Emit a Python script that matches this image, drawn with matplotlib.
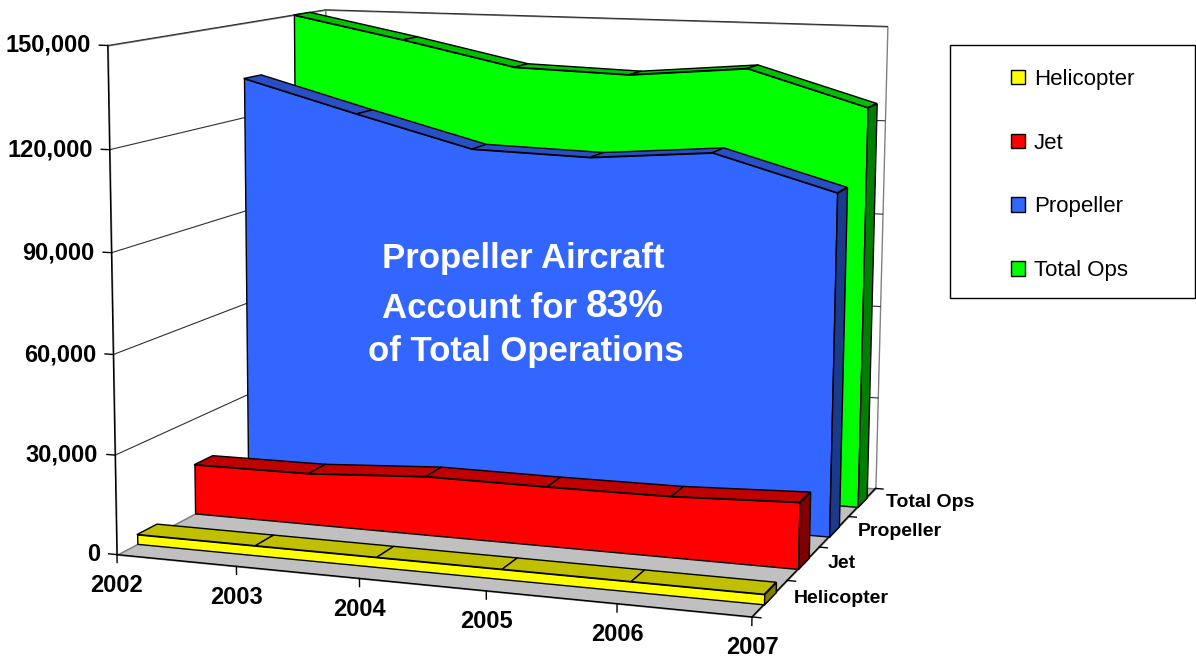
import numpy as np
import matplotlib
matplotlib.use('Agg')
import matplotlib.pyplot as plt
from matplotlib.patches import Patch, Rectangle
from mpl_toolkits.mplot3d.art3d import Poly3DCollection

plt.rcParams['font.family'] = ['Liberation Sans', 'DejaVu Sans']

# operations by aircraft type, 2002-2007
years = [2002, 2003, 2004, 2005, 2006, 2007]
series = ['Helicopter', 'Jet', 'Propeller', 'Total Ops']
helicopter = [2900, 2900, 2900, 2900, 2900, 2900]
jet = [15600, 15900, 18100, 18100, 18400, 19900]
propeller = [132500, 122700, 113300, 112400, 115500, 105200]
total_ops = [150000, 143000, 135400, 134300, 137600, 126800]
zticks = [0, 30000, 60000, 90000, 120000, 150000]

front_colors = ['#ffff00', '#ff0000', '#3366ff', '#00ff00']
top_colors = ['#c0c000', '#c00000', '#2a4fc4', '#00c000']
side_colors = ['#808000', '#800000', '#1c3a8c', '#008000']

W, H = 1196, 660
fig = plt.figure(figsize=(W / 100, H / 100), dpi=100)
ax = fig.add_axes([-0.10604, -0.14748, 1.05401, 1.40534],
                  projection='3d', computed_zorder=False)
ax.view_init(elev=9.34, azim=-70.96, roll=-0.29)
ax.set_proj_type('persp', focal_length=0.5735)
ax.set_box_aspect((1, 0.8317, 0.7788))
ax.set_axis_off()

nx = len(years) - 1
ny = len(series)
zmax = zticks[-1]
xpos = np.arange(len(years))


def add_poly(verts, fc, ec, z, lw=1.0):
    pc = Poly3DCollection(verts, facecolors=fc, edgecolors=ec, linewidths=lw)
    pc.set_zorder(z)
    ax.add_collection3d(pc)


# floor and walls
add_poly([[(0, 0, 0), (nx, 0, 0), (nx, ny, 0), (0, ny, 0)]], '#c0c0c0', '#808080', 0)
add_poly([[(0, 0, 0), (0, ny, 0), (0, ny, zmax), (0, 0, zmax)]], 'white', '#808080', 0)
add_poly([[(0, ny, 0), (nx, ny, 0), (nx, ny, zmax), (0, ny, zmax)]], 'white', '#808080', 0)

for z in zticks[1:]:
    ax.plot([0, 0, nx], [0, ny, ny], [z, z, z], color='#303030', lw=0.8, zorder=1)

# axis lines and tick marks
ax.plot([0, nx], [0, 0], [0, 0], color='k', lw=1, zorder=2)
ax.plot([nx, nx], [0, ny], [0, 0], color='k', lw=1, zorder=2)
ax.plot([0, 0], [0, 0], [0, zmax], color='k', lw=1, zorder=2)
for z in zticks:
    ax.plot([-0.07, 0], [0, 0], [z, z], color='k', lw=1, zorder=2)
for x in xpos:
    ax.plot([x, x], [0, 0], [0, -2400], color='k', lw=1, zorder=2)
for j in range(ny + 1):
    ax.plot([nx, nx + 0.065], [j, j], [0, 0], color='k', lw=1, zorder=2)

# one slab per series, back to front
values = [helicopter, jet, propeller, total_ops]
for i in reversed(range(ny)):
    v = values[i]
    y0, y1 = i + 1 / 3, i + 2 / 3
    zo = 10 + (ny - i) * 3
    front = [(x, y0, 0) for x in xpos] + [(x, y0, h) for x, h in zip(xpos[::-1], v[::-1])]
    add_poly([front], front_colors[i], 'k', zo)
    tops = [[(xpos[k], y0, v[k]), (xpos[k + 1], y0, v[k + 1]),
             (xpos[k + 1], y1, v[k + 1]), (xpos[k], y1, v[k])] for k in range(nx)]
    add_poly(tops, top_colors[i], 'k', zo + 1)
    side = [(nx, y0, 0), (nx, y1, 0), (nx, y1, v[-1]), (nx, y0, v[-1])]
    add_poly([side], side_colors[i], 'k', zo + 1)

ax.set_xlim(0, nx)
ax.set_ylim(0, ny)
ax.set_zlim(0, zmax)

M = ax.get_proj()


def to2d(x, y, z):
    o = M @ np.array([x, y, z, 1.0])
    return o[0] / o[3], o[1] / o[3]


for z in zticks:
    ax.annotate(f'{z:,}', xy=to2d(0, 0, z), xytext=(-17, 0), textcoords='offset pixels',
                ha='right', va='center', fontsize=17, fontweight='bold')
for x, yr in zip(xpos, years):
    ax.annotate(str(yr), xy=to2d(x, 0, 0), xytext=(0, -31), textcoords='offset pixels',
                ha='center', va='center', fontsize=17, fontweight='bold')
for j, name in enumerate(series):
    ax.annotate(name, xy=to2d(nx, j + 0.5, 0), xytext=(24, 0), textcoords='offset pixels',
                ha='left', va='center', fontsize=14, fontweight='bold')

# message on the propeller area
fig.text(523 / W, 1 - 268 / H, 'Propeller Aircraft', color='white', fontsize=25,
         fontweight='bold', ha='center', va='baseline')
t2 = fig.text(382 / W, 1 - 318 / H, 'Account for', color='white', fontsize=25,
              fontweight='bold', ha='left', va='baseline')
ax.annotate('83%', xy=(1, 0), xycoords=t2, xytext=(9, 0), textcoords='offset pixels',
            color='white', fontsize=28, fontweight='bold', ha='left', va='bottom',
            zorder=100)
fig.text(526 / W, 1 - 361 / H, 'of Total Operations', color='white', fontsize=25,
         fontweight='bold', ha='center', va='baseline')

# legend
fig.add_artist(Rectangle((950 / W, 1 - 298 / H), 245 / W, 253 / H, transform=fig.transFigure,
                         facecolor='white', edgecolor='black', lw=1))
handles = [Patch(facecolor=c, edgecolor='black', label=s) for c, s in zip(front_colors, series)]
fig.legend(handles=handles, loc='center', bbox_to_anchor=(1073 / W, 1 - 175 / H),
           frameon=False, fontsize=16, handlelength=0.62, handleheight=0.62,
           handletextpad=0.4, labelspacing=1.93)

fig.savefig('out.png', dpi=100)
